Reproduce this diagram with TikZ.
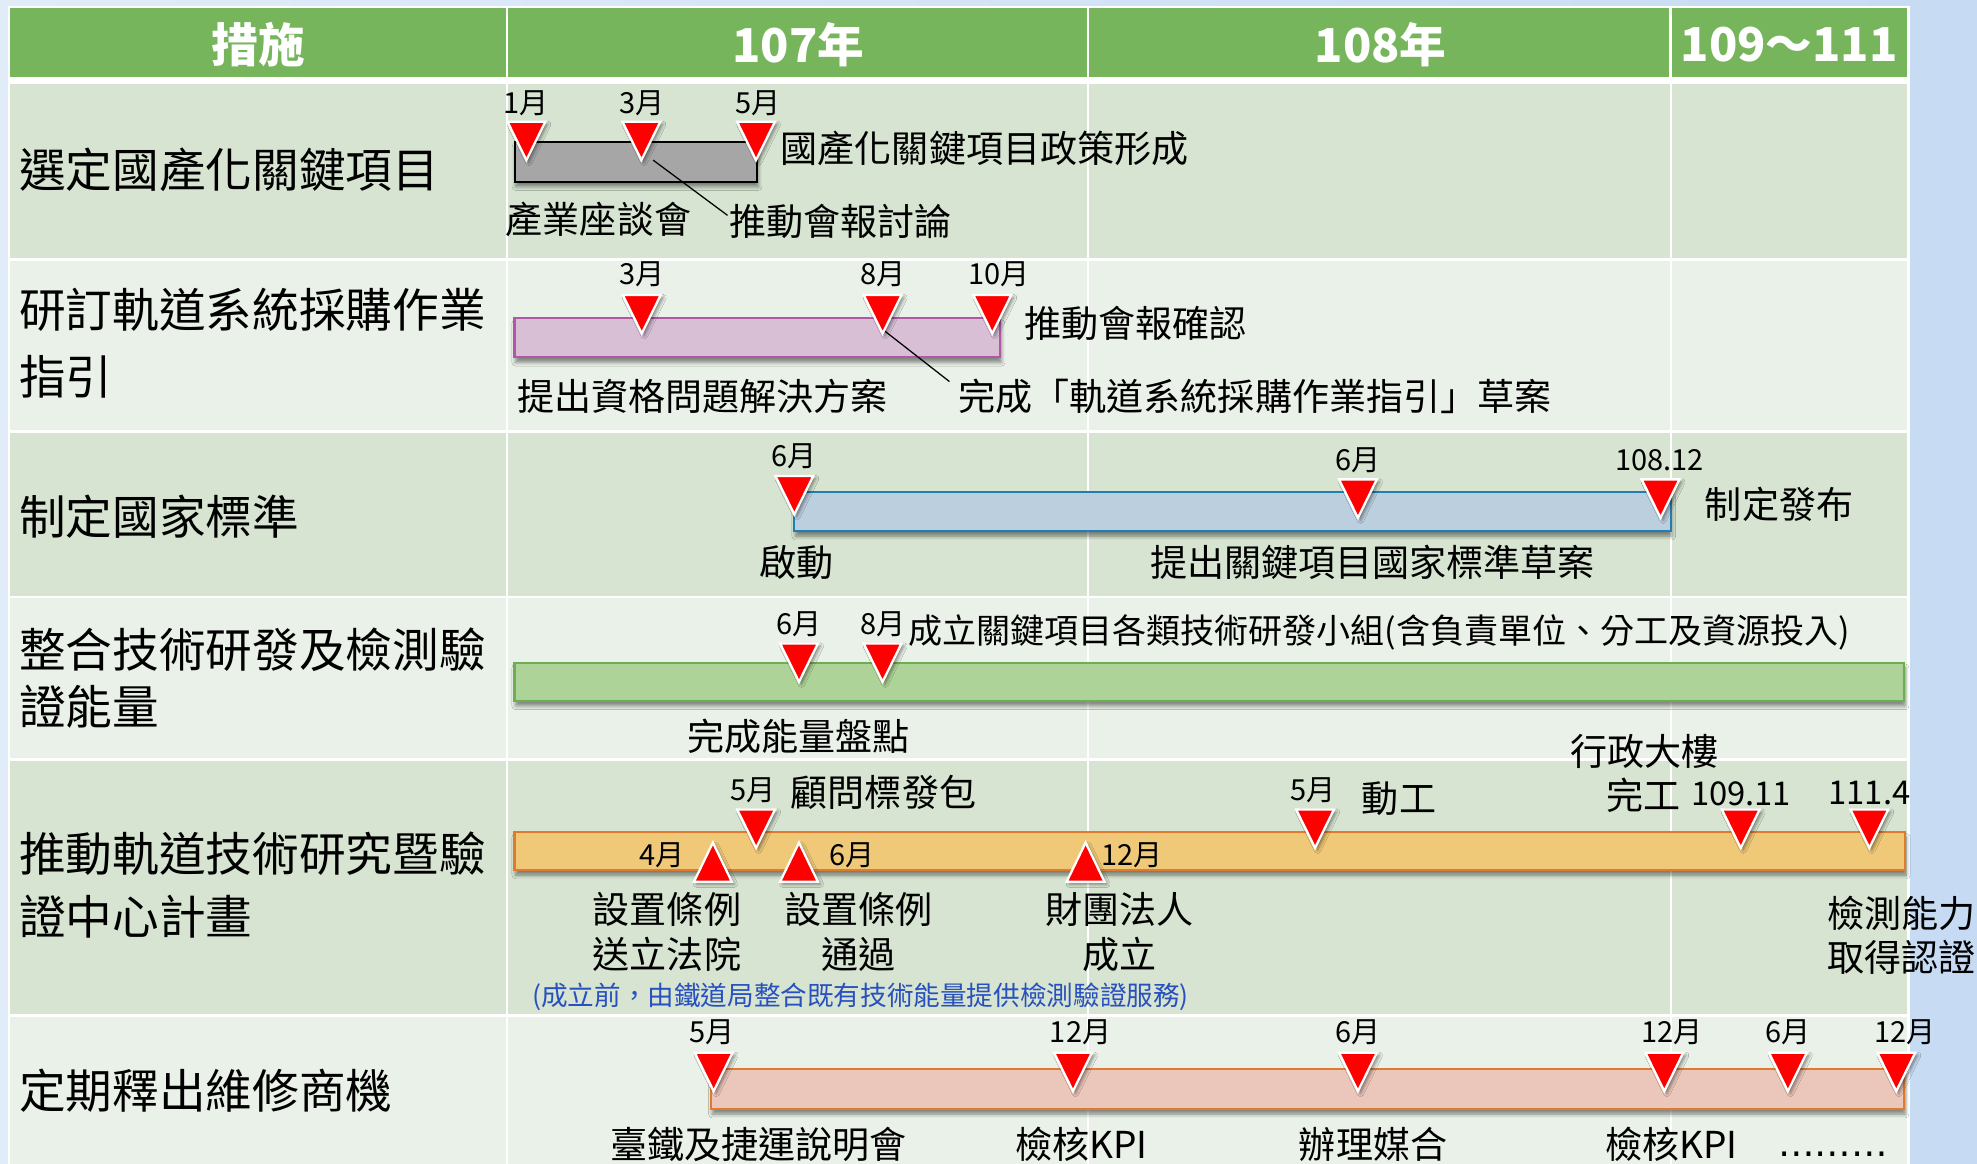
\documentclass[tikz,border=0pt]{standalone}
\usepackage{fontspec}
\setmainfont{Noto Sans CJK TC}
\newfontfamily\dejavu{DejaVu Sans}
\usetikzlibrary{shadows.blur}
\definecolor{bgL}{RGB}{225,236,249}
\definecolor{bgR}{RGB}{198,219,243}
\definecolor{hdrgreen}{RGB}{118,181,91}
\definecolor{rowA}{RGB}{214,228,209}
\definecolor{rowB}{RGB}{234,241,232}
\definecolor{grayfill}{RGB}{166,166,166}
\definecolor{pinkfill}{RGB}{216,191,214}
\definecolor{pinkline}{RGB}{176,88,166}
\definecolor{bluefill}{RGB}{188,207,222}
\definecolor{blueline}{RGB}{32,126,178}
\definecolor{greenfill}{RGB}{174,211,152}
\definecolor{greenline}{RGB}{108,174,80}
\definecolor{orangefill}{RGB}{239,201,120}
\definecolor{orangeline}{RGB}{224,122,46}
\definecolor{salmonfill}{RGB}{235,198,186}
\definecolor{notecol}{RGB}{40,80,190}
\tikzset{
  dtri/.pic={\path[fill=red, draw=white, line width=1.8pt, line join=miter,
      blur shadow={shadow xshift=2pt, shadow yshift=-2pt, shadow blur radius=2.5pt, shadow opacity=45}]
      (-15,0) -- (15,0) -- (0,30.5) -- cycle;},
  utri/.pic={\path[fill=red, draw=white, line width=1.8pt, line join=miter,
      blur shadow={shadow xshift=2pt, shadow yshift=-2pt, shadow blur radius=2.5pt, shadow opacity=45}]
      (-15,0) -- (15,0) -- (0,-31) -- cycle;},
}
\begin{document}
\begin{tikzpicture}[x=1pt,y=-1pt,
  lbl/.style={anchor=west, inner sep=0pt, font=\fontsize{37}{44}\selectfont},
  ann/.style={anchor=west, inner sep=0pt, font=\fontsize{29.4}{34}\selectfont},
  mon/.style={anchor=center, inner sep=0pt, font=\fontsize{23}{28}\selectfont},
  big/.style={anchor=west, inner sep=0pt, font=\fontsize{26}{30}\selectfont},
  hdr/.style={anchor=center, inner sep=0pt, text=white, font=\fontsize{37}{44}\selectfont\bfseries},
  bar/.style={line width=1.8pt, blur shadow={shadow xshift=1pt, shadow yshift=-4pt, shadow blur radius=3pt, shadow opacity=45}},
  colline/.style={white, line width=1.6pt},
]
\useasboundingbox (0,0) rectangle (1568,923);
\shade[left color=bgL, right color=bgR] (0,0) rectangle (1568,923);
% table frame
\fill[white] (6,4.6) rectangle (1514.5,923);
% header
\fill[hdrgreen] (8,6.6) rectangle (1512.8,61.3);
\foreach \cx in {402,863,1325} \draw[colline, line width=2pt] (\cx,6.6) -- (\cx,61.3);
\node[hdr] (h1) at (205,35.7) {措施};
\node[hdr] (h2) at (633,35.7) {107年};
\node[hdr] (h3) at (1095,35.7) {108年};
\node[hdr] (h4) at (1419,35.7) {109～111};
% rows
\fill[rowA] (8,66.6) rectangle (1512.8,205.0);
\fill[rowB] (8,206.8) rectangle (1512.8,341.3);
\fill[rowA] (8,343.2) rectangle (1512.8,472.8);
\fill[rowB] (8,474.6) rectangle (1512.8,601.3);
\fill[rowA] (8,603.2) rectangle (1512.8,804.4);
\fill[rowB] (8,806.4) rectangle (1512.8,923);
\foreach \cx in {402,863,1325} \draw[colline] (\cx,66.6) -- (\cx,923);
% row labels
\node[lbl] (r1) at (15,134.8) {選定國產化關鍵項目};
\node[lbl] (r2a) at (15,246) {研訂軌道系統採購作業};
\node[lbl] (r2b) at (15,299) {指引};
\node[lbl] (r3) at (15,409.8) {制定國家標準};
\node[lbl] (r4a) at (15,515.5) {整合技術研發及檢測驗};
\node[lbl] (r4b) at (15,560.5) {證能量};
\node[lbl] (r5a) at (15,677.4) {推動軌道技術研究暨驗};
\node[lbl] (r5b) at (15,727) {證中心計畫};
\node[lbl] (r6) at (15,865) {定期釋出維修商機};
% bars
\path[bar, fill=grayfill, draw=black] (408.2,112.4) rectangle (600.3,144.1);
\path[bar, fill=pinkfill, draw=pinkline] (408,252.5) rectangle (793,283.4);
\path[bar, fill=bluefill, draw=blueline] (630,390.5) rectangle (1325,421.2);
\path[bar, fill=greenfill, draw=greenline] (408,525.6) rectangle (1510,555.9);
\path[bar, fill=orangefill, draw=orangeline] (408,660) rectangle (1511,690);
\path[bar, fill=salmonfill, draw=orangeline] (564,848.1) rectangle (1510,879.6);
% row 1 texts
\node[mon] (m11) at (417,82) {1月};
\node[mon] (m12) at (509,82) {3月};
\node[mon] (m13) at (601,82) {5月};
\node[ann] (t1a) at (619,117.6) {國產化關鍵項目政策形成};
\node[ann] (t1b) at (401,173.7) {產業座談會};
\node[ann] (t1c) at (578,175.8) {推動會報討論};
\coordinate (l1) at (518,127);
\draw[line width=1pt] (l1) -- ([shift={(-1,-5)}]t1c.west);
% row 2 texts
\node[mon] (m21) at (509,217.3) {3月};
\node[mon] (m22) at (700,217.3) {8月};
\node[mon] (m23) at (792,217.3) {10月};
\node[ann] (t2a) at (812,256.5) {推動會報確認};
\node[ann] (t2b) at (410,314.6) {提出資格問題解決方案};
\node[ann] (t2c) at (760,314.6) {完成「軌道系統採購作業指引」草案};
\coordinate (l2) at (701,262);
\draw[line width=1pt] (l2) -- ([shift={(-7,-12)}]t2c.west);
% row 3 texts
\node[mon] (m31) at (630,362.2) {6月};
\node[mon] (m32) at (1077,364.8) {6月};
\node[mon] (m33) at (1316,364.6) {108.12};
\node[ann] (t3a) at (1352,399.8) {制定發布};
\node[ann] (t3b) at (602,446) {啟動};
\node[ann] (t3c) at (912,446) {提出關鍵項目國家標準草案};
% row 4 texts
\node[mon] (m41) at (634,494.9) {6月};
\node[mon] (m42) at (700,494.9) {8月};
\node[anchor=west, inner sep=0pt, font=\fontsize{27}{32}\selectfont] (t4a) at (720,501.8) {成立關鍵項目各類技術研發小組(含負責單位、分工及資源投入)};
\node[ann] (t4b) at (545,584.3) {完成能量盤點};
% row 5 texts
\node[ann] (t5a) at (1245,596.2) {行政大樓};
\node[mon] (m51) at (597.5,626.6) {5月};
\node[ann] (t5b) at (627,628.4) {顧問標發包};
\node[mon] (m52) at (1041.5,626.6) {5月};
\node[ann] (t5c) at (1080,633.2) {動工};
\node[ann] (t5d) at (1274,630.6) {完工};
\node[big] (m53) at (1341,629.2) {109.11};
\node[big] (m54) at (1450,629.2) {111.4};
\node[mon] (m55) at (525,678.1) {4月};
\node[mon] (m56) at (676,678.1) {6月};
\node[mon] (m57) at (898,678.1) {12月};
\node[ann] (t5e) at (470,721) {設置條例};
\node[ann] (t5f) at (470,756.7) {送立法院};
\node[ann] (t5g) at (622,721) {設置條例};
\node[ann] (t5h) at (651,756.7) {通過};
\node[ann] (t5i) at (829,721) {財團法人};
\node[ann] (t5j) at (858,756.7) {成立};
\node[ann] (t5k) at (1449,724.4) {檢測能力};
\node[ann] (t5l) at (1449,759.3) {取得認證};
\node[anchor=west, inner sep=0pt, text=notecol, font=\fontsize{21.1}{26}\selectfont] (t5m) at (422,790.5) {(成立前，由鐵道局整合既有技術能量提供檢測驗證服務)};
% row 6 texts
\node[mon] (m61) at (565,818.8) {5月};
\node[mon] (m62) at (857,818.8) {12月};
\node[mon] (m63) at (1077,818.8) {6月};
\node[mon] (m64) at (1326,818.8) {12月};
\node[mon] (m65) at (1418,818.8) {6月};
\node[mon] (m66) at (1511,818.8) {12月};
\node[ann] (t6a) at (484,907.4) {臺鐵及捷運說明會};
\node[ann] (t6b) at (805,907.4) {檢核KPI};
\node[ann] (t6c) at (1030,907.4) {辦理媒合};
\node[ann] (t6d) at (1273,907.4) {檢核KPI};
\node[anchor=base west, inner sep=0pt, font=\dejavu\fontsize{29}{34}\selectfont] (t6e) at (1410,917) {………};
% markers
\foreach \mx in {417.5,508.7,599.6} \pic at (\mx,96.5) {dtri};
\foreach \mx in {509,700,787} \pic at (\mx,234) {dtri};
\pic at (630,377.5) {dtri};
\pic at (1077,380.2) {dtri};
\pic at (1317,380.2) {dtri};
\foreach \mx in {633.7,700} \pic at (\mx,510.3) {dtri};
\foreach \mx in {599.7,1043,1380.6,1482.6} \pic at (\mx,642) {dtri};
\foreach \mx in {565.4,633.7,861} \pic at (\mx,699.3) {utri};
\foreach \mx in {566,851,1077,1320,1418,1504} \pic at (\mx,834.9) {dtri};
\end{tikzpicture}
\end{document}
